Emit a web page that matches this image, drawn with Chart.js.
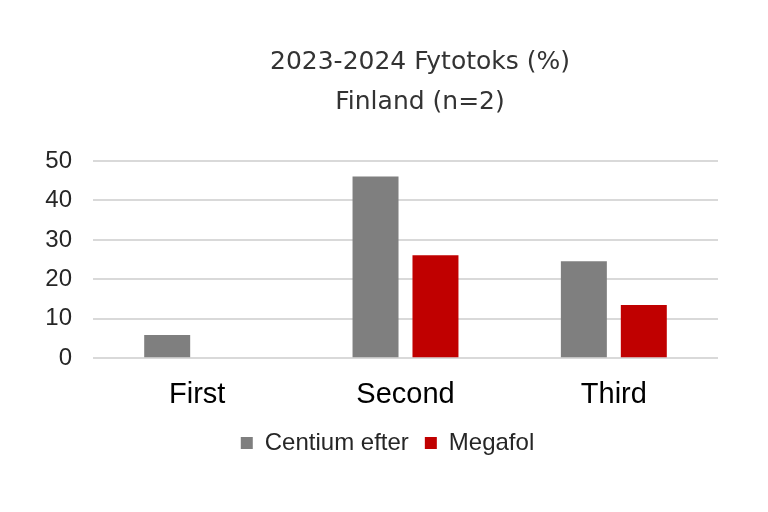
<!DOCTYPE html>
<html>
<head>
<meta charset="utf-8">
<script src="https://cdn.jsdelivr.net/npm/chart.js@4/dist/chart.umd.min.js"></script>
<style>
  html, body { margin: 0; padding: 0; background: #ffffff; }
  #wrap { width: 768px; height: 512px; position: relative; }
</style>
</head>
<body>
<div id="wrap"><canvas id="c" width="768" height="512"></canvas></div>
<script>
const categories = ["First", "Second", "Third"];
const centiumEfter = [5.9, 46.1, 24.6];
const megafol = [0, 26.1, 13.5];
const yTicks = [0, 10, 20, 30, 40, 50];
const titleLines = ["2023-2024 Fytotoks (%)", "Finland (n=2)"];
const seriesNames = ["Centium efter", "Megafol"];

// shifts the title and legend horizontally/vertically to match the reference layout
const placeBlocks = {
  id: "placeBlocks",
  afterLayout(chart) {
    const t = chart.titleBlock;
    if (t) { t.left = 122; t.right = 718; }
    const l = chart.legend;
    if (l) {
      l.left = 57; l.right = 718;
      l.top -= 8; l.bottom -= 8;
    }
  }
};

new Chart(document.getElementById("c"), {
  type: "bar",
  data: {
    labels: categories,
    datasets: [
      { label: seriesNames[0], data: centiumEfter, backgroundColor: "#7f7f7f",
        categoryPercentage: 0.5755, barPercentage: 0.767 },
      { label: seriesNames[1], data: megafol, backgroundColor: "#c00000",
        categoryPercentage: 0.5755, barPercentage: 0.767 }
    ]
  },
  plugins: [placeBlocks],
  options: {
    responsive: false,
    animation: false,
    devicePixelRatio: 1,
    layout: { padding: { left: 0, right: 50, top: 0, bottom: 39 } },
    plugins: {
      title: {
        display: true,
        text: titleLines,
        color: "#333333",
        font: { family: "'DejaVu Sans', sans-serif", size: 25, weight: "normal", lineHeight: 1.6 },
        padding: { top: 42, bottom: 39 }
      },
      legend: {
        position: "bottom",
        labels: {
          color: "#262626",
          font: { family: "'Liberation Sans', Arial, sans-serif", size: 24 },
          boxWidth: 12, boxHeight: 12, padding: 16
        }
      },
      tooltip: { enabled: false }
    },
    scales: {
      x: {
        grid: { display: false },
        border: { display: false },
        ticks: {
          color: "#000000",
          font: { family: "'Liberation Sans', Arial, sans-serif", size: 29 },
          padding: 11
        }
      },
      y: {
        min: 0, max: 50,
        afterBuildTicks: (scale) => { scale.ticks = yTicks.map(v => ({ value: v })); },
        afterFit: (scale) => { scale.width = 93; },
        grid: { color: "#d9d9d9", lineWidth: 2, drawTicks: false },
        border: { display: false },
        ticks: {
          color: "#262626",
          font: { family: "'Liberation Sans', Arial, sans-serif", size: 24 },
          padding: 21
        }
      }
    }
  }
});
</script>
</body>
</html>
